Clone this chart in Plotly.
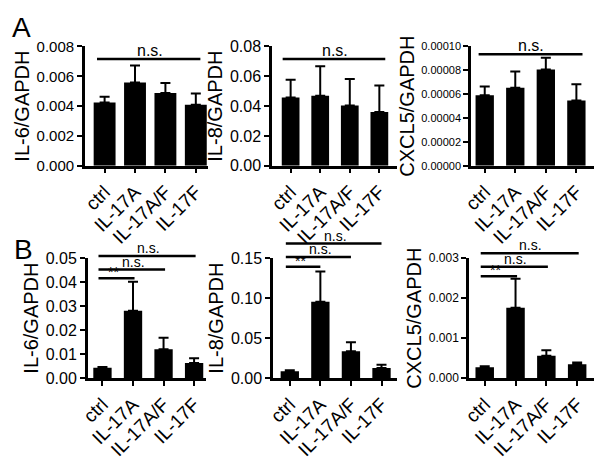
import plotly.graph_objects as go

categories = ["ctrl", "IL-17A", "IL-17A/F", "IL-17F"]

# Panel A
a_il6_mean = [0.00424, 0.00559, 0.00488, 0.00409]
a_il6_err = [0.00038, 0.00114, 0.00067, 0.00075]
a_il8_mean = [0.0458, 0.0469, 0.0404, 0.0361]
a_il8_err = [0.0118, 0.0198, 0.0177, 0.0177]
a_cxcl5_mean = [0.0000591, 0.0000653, 0.0000806, 0.0000546]
a_cxcl5_err = [0.0000073, 0.0000137, 0.0000100, 0.0000137]

# Panel B
b_il6_mean = [0.0043, 0.0281, 0.0120, 0.0063]
b_il6_err = [0.0004, 0.0120, 0.0048, 0.0020]
b_il8_mean = [0.0085, 0.0954, 0.0337, 0.0128]
b_il8_err = [0.0015, 0.0376, 0.0112, 0.0040]
b_cxcl5_mean = [0.00027, 0.00176, 0.00056, 0.00035]
b_cxcl5_err = [0.00003, 0.00072, 0.00014, 0.00004]

y_titles = ["IL-6/GAPDH", "IL-8/GAPDH", "CXCL5/GAPDH",
            "IL-6/GAPDH", "IL-8/GAPDH", "CXCL5/GAPDH"]
y_max = [0.008, 0.08, 0.0001, 0.05, 0.15, 0.003]
y_dtick = [0.002, 0.02, 0.00002, 0.01, 0.05, 0.001]
y_fmt = [".3f", ".2f", ".5f", ".2f", ".2f", ".3f"]

# significance comparisons: (first group index, second group index, label)
sig_pairs = [
    [(0, 3, "n.s.")],
    [(0, 3, "n.s.")],
    [(0, 3, "n.s.")],
    [(0, 1, "**"), (0, 2, "n.s."), (0, 3, "n.s.")],
    [(0, 1, "**"), (0, 2, "n.s."), (0, 3, "n.s.")],
    [(0, 1, "**"), (0, 2, "n.s."), (0, 3, "n.s.")],
]

means = [a_il6_mean, a_il8_mean, a_cxcl5_mean, b_il6_mean, b_il8_mean, b_cxcl5_mean]
errs = [a_il6_err, a_il8_err, a_cxcl5_err, b_il6_err, b_il8_err, b_cxcl5_err]

# ---- layout / style ----
W, H = 601, 466
FONT = "Liberation Sans, Arial, sans-serif"
px_x = [(77, 202), (267, 394), (469, 594), (80, 200), (268, 394), (467, 594)]
px_y = [(39, 163), (39, 163), (39, 163), (259, 384), (259, 384), (259, 384)]
x_ranges = [(-0.65, 3.4), (-0.63, 3.6), (-0.45, 3.58), (-0.48, 3.39), (-0.55, 3.51), (-0.51, 3.55)]
bar_w = [0.72, 0.6, 0.6, 0.6, 0.6, 0.6]
tick_fs = [15, 16, 11, 16, 16, 12]
ns_fs = [16, 16, 16, 14, 14, 14]
# sig line heights in axis-domain fractions, and line extension offsets
sig_y = [[0.895], [0.895], [0.935], [0.832, 0.904, 1.016], [0.928, 1.008, 1.12], [0.848, 0.928, 1.04]]
sig_ext = [(-0.25, 0.15), (-0.27, 0.2), (-0.2, 0.2), (-0.13, 0.05), (-0.13, 0.0), (-0.13, 0.05)]

fig = go.Figure()
shapes = []
annotations = []
for i in range(6):
    n = "" if i == 0 else str(i + 1)
    fig.add_trace(go.Bar(
        x=categories, y=means[i], width=bar_w[i],
        marker=dict(color="black", line=dict(width=0)),
        error_y=dict(type="data", symmetric=False, array=errs[i],
                     arrayminus=[0] * len(errs[i]),
                     color="black", thickness=2, width=5),
        xaxis="x" + n, yaxis="y" + n, showlegend=False,
    ))
    x0p, x1p = px_x[i]
    y0p, y1p = px_y[i]
    fig.layout["xaxis" + n] = dict(
        domain=[x0p / W, x1p / W], anchor="y" + n,
        type="category", categoryorder="array", categoryarray=categories,
        range=list(x_ranges[i]), showline=True, linecolor="black", linewidth=2.5,
        ticks="outside", ticklen=5, tickwidth=2, tickcolor="black",
        tickangle=-45, tickfont=dict(family=FONT, size=19, color="black"),
        showgrid=False, zeroline=False, fixedrange=True,
    )
    fig.layout["yaxis" + n] = dict(
        domain=[1 - y1p / H, 1 - y0p / H], anchor="x" + n,
        range=[0, y_max[i]], dtick=y_dtick[i], tick0=0, tickformat=y_fmt[i],
        showline=True, linecolor="black", linewidth=2.5,
        ticks="outside", ticklen=5, tickwidth=2, tickcolor="black",
        tickfont=dict(family=FONT, size=tick_fs[i], color="black"),
        title=dict(text=y_titles[i], font=dict(family=FONT, size=20, color="black"), standoff=2),
        showgrid=False, zeroline=False, fixedrange=True,
    )
    for k, (g0, g1, lab) in enumerate(sig_pairs[i]):
        yv = sig_y[i][k]
        ex0, ex1 = sig_ext[i]
        shapes.append(dict(type="line", xref="x" + n, yref="y" + n + " domain",
                           x0=g0 + ex0, x1=g1 + ex1, y0=yv, y1=yv,
                           line=dict(color="black", width=2.5)))
        annotations.append(dict(xref="x" + n, yref="y" + n + " domain",
                                x=(g0 + g1) / 2 + (0.0 if lab != "**" else -0.15),
                                y=yv, yanchor="bottom", yshift=-4 if lab == "**" else -2,
                                text=lab, showarrow=False,
                                font=dict(family=FONT, size=ns_fs[i] if lab != "**" else 14, color="black")))

annotations.append(dict(xref="paper", yref="paper", x=1 / W, y=1 - 1 / H, xanchor="left", yanchor="top",
                        text="A", showarrow=False, font=dict(family=FONT, size=28, color="black")))
annotations.append(dict(xref="paper", yref="paper", x=3 / W, y=1 - 232 / H, xanchor="left", yanchor="top",
                        text="B", showarrow=False, font=dict(family=FONT, size=28, color="black")))

fig.update_layout(
    width=W, height=H, margin=dict(l=0, r=0, t=0, b=0),
    paper_bgcolor="white", plot_bgcolor="white",
    shapes=shapes, annotations=annotations, bargap=0.2,
)
fig.write_html("out.html", config={"displayModeBar": False},
               post_script="document.body.style.margin='0';")
